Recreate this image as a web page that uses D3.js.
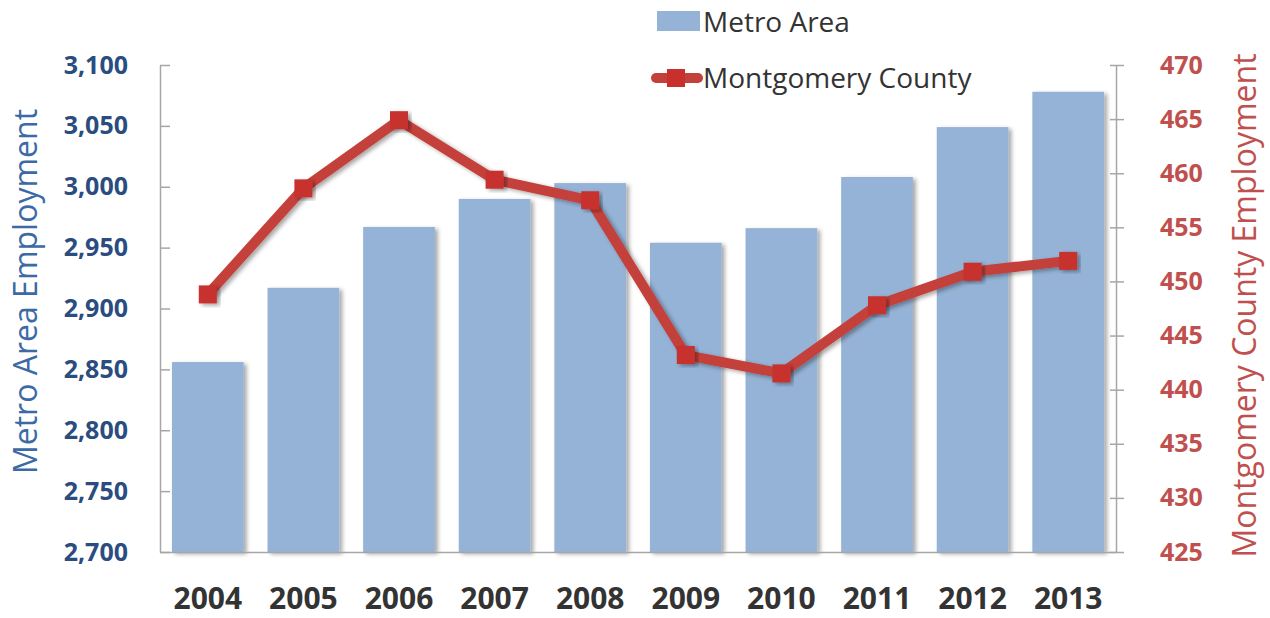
<!DOCTYPE html>
<html>
<head>
  <script src="https://d3js.org/d3.v7.min.js"></script>
  <style type="text/css">
    body { margin: 0; background: #fff; }
    #chart { display: block; }
    text { font-family: "Open Sans", sans-serif; }
  </style>
</head>
<body>
<svg id="chart" width="1270" height="618"></svg>

<script type="text/javascript">
// data (thousands of jobs)
const years = ['2004','2005','2006','2007','2008','2009','2010','2011','2012','2013'];
const metroArea = [2856, 2917, 2967, 2990, 3003, 2954, 2966, 3008, 3049, 3078];
const montgomery = [448.8, 458.6, 464.9, 459.4, 457.5, 443.2, 441.5, 447.8, 450.9, 451.9];
const leftTicks = [2700, 2750, 2800, 2850, 2900, 2950, 3000, 3050, 3100];
const rightTicks = [425, 430, 435, 440, 445, 450, 455, 460, 465, 470];

const barColor = '#95b3d7';
const lineColor = '#c4403b';
const blueText = '#2b4c7e';
const redText = '#c0504d';

const svg = d3.select('#chart');
const plotL = 160, plotR = 1116, plotT = 65, plotB = 552;

const x = d3.scaleBand().domain(years).range([plotL, plotR]).paddingInner(0.25).paddingOuter(0.125);
const yL = d3.scaleLinear().domain([2700, 3100]).range([plotB, plotT]);
const yR = d3.scaleLinear().domain([425, 470]).range([plotB, plotT]);

// soft shadow on the bars and the line
const defs = svg.append('defs');
const f = defs.append('filter').attr('id', 'shadow')
  .attr('x', '-20%').attr('y', '-20%').attr('width', '140%').attr('height', '140%');
f.append('feDropShadow').attr('dx', 3).attr('dy', 2).attr('stdDeviation', 2)
  .attr('flood-color', '#000').attr('flood-opacity', 0.35);

// bars
svg.append('g').selectAll('rect').data(years)
  .join('rect')
  .attr('x', d => x(d))
  .attr('width', x.bandwidth())
  .attr('y', (d, i) => yL(metroArea[i]))
  .attr('height', (d, i) => plotB - yL(metroArea[i]))
  .attr('fill', barColor)
  .attr('filter', 'url(#shadow)');

// axes
function styleAxis(g, color, size) {
  g.select('.domain').attr('stroke', '#a6a6a6').attr('stroke-width', 1.5);
  g.selectAll('.tick line').attr('stroke', '#a6a6a6').attr('stroke-width', 1.5);
  g.selectAll('.tick text')
    .attr('fill', color)
    .style('font-size', size + 'px')
    .style('font-weight', 'bold');
}

const gL = svg.append('g').attr('transform', `translate(${plotL},0)`)
  .call(d3.axisLeft(yL).tickValues(leftTicks).tickFormat(d3.format(',')).tickSizeOuter(0).tickSizeInner(10).tickPadding(22));
gL.selectAll('.tick line').attr('x2', 10);
styleAxis(gL, blueText, 25);

const gR = svg.append('g').attr('transform', `translate(${plotR},0)`)
  .call(d3.axisRight(yR).tickValues(rightTicks).tickSizeOuter(0).tickSizeInner(8).tickPadding(36));
gR.selectAll('.tick line').attr('x1', -6);
styleAxis(gR, redText, 25);

const gX = svg.append('g').attr('transform', `translate(0,${plotB})`)
  .call(d3.axisBottom(x).tickSize(0).tickPadding(36));
gX.select('.domain').attr('stroke', '#a6a6a6').attr('stroke-width', 1.5);
gX.selectAll('.tick text')
  .attr('fill', '#333')
  .style('font-size', '30px')
  .style('font-weight', 'bold');

// line + markers
const line = d3.line()
  .x((d, i) => x(years[i]) + x.bandwidth() / 2)
  .y(d => yR(d));

svg.append('path')
  .datum(montgomery)
  .attr('d', line)
  .attr('fill', 'none')
  .attr('stroke', lineColor)
  .attr('stroke-width', 10)
  .attr('stroke-linejoin', 'round')
  .attr('filter', 'url(#shadow)');

svg.append('g').selectAll('rect').data(montgomery)
  .join('rect')
  .attr('x', (d, i) => x(years[i]) + x.bandwidth() / 2 - 9)
  .attr('y', d => yR(d) - 9)
  .attr('width', 18)
  .attr('height', 18)
  .attr('fill', '#c8302d')
  .attr('filter', 'url(#shadow)');

// axis titles
svg.append('text')
  .attr('transform', `translate(37,${(plotT + plotB) / 2 - 17}) rotate(-90)`)
  .attr('text-anchor', 'middle')
  .attr('fill', '#3c6aa5')
  .style('font-size', '32px')
  .text('Metro Area Employment');

svg.append('text')
  .attr('transform', `translate(1256,${(plotT + plotB) / 2 - 3}) rotate(-90)`)
  .attr('text-anchor', 'middle')
  .attr('fill', redText)
  .style('font-size', '32px')
  .text('Montgomery County Employment');

// legend
const lg = svg.append('g');
lg.append('rect').attr('x', 657).attr('y', 11).attr('width', 43).attr('height', 20).attr('fill', barColor);
lg.append('text').attr('x', 703).attr('y', 32).attr('fill', '#333').style('font-size', '28px').text('Metro Area');
lg.append('line').attr('x1', 656).attr('x2', 698).attr('y1', 78).attr('y2', 78)
  .attr('stroke', lineColor).attr('stroke-width', 10).attr('stroke-linecap', 'round');
lg.append('rect').attr('x', 667).attr('y', 69).attr('width', 18).attr('height', 18).attr('fill', '#c8302d');
lg.append('text').attr('x', 703).attr('y', 88).attr('fill', '#333').style('font-size', '28px').text('Montgomery County');
</script>
</body>
</html>
